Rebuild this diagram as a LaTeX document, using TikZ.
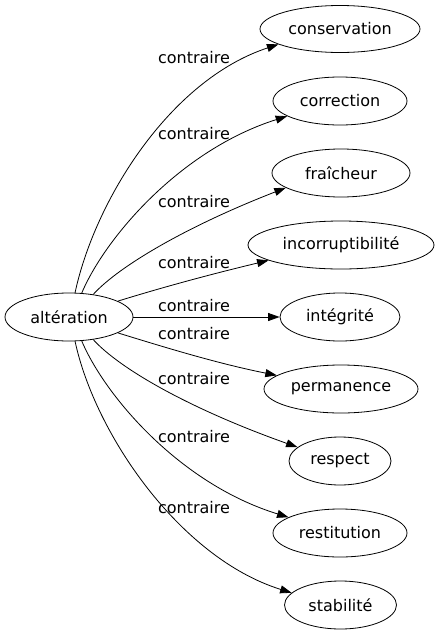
\documentclass[tikz,border=0pt]{standalone}
\usepackage{fontspec}
\setmainfont{DejaVu Sans}
\usetikzlibrary{shapes.geometric,arrows.meta}
\begin{document}
\begin{tikzpicture}[x=1pt,y=-1pt,
  ell/.style={ellipse,draw,line width=0.8pt,inner sep=0pt,minimum height=48pt,font=\fontsize{16}{19}\selectfont},
  lab/.style={font=\fontsize{16}{19}\selectfont,inner sep=0pt},
  edge/.style={line width=0.8pt,-{Triangle[length=11.5pt,width=8pt]}}]
\useasboundingbox (0,0) rectangle (439,635);
\node[ell,minimum width=128pt] (alt) at (69,317) {altération};
\node[ell,minimum width=160pt,minimum height=47pt] (cons) at (340,29) {conservation};
\node[ell,minimum width=134pt] (corr) at (340,101) {correction};
\node[ell,minimum width=138pt] (frai) at (341,173) {fraîcheur};
\node[ell,minimum width=186pt] (inco) at (341,245) {incorruptibilité};
\node[ell,minimum width=120pt] (inte) at (340,317) {intégrité};
\node[ell,minimum width=154pt] (perm) at (341,389) {permanence};
\node[ell,minimum width=102pt] (resp) at (340,461) {respect};
\node[ell,minimum width=134pt] (rest) at (340,533) {restitution};
\node[ell,minimum width=112pt] (stab) at (340.5,605) {stabilité};
\node[lab] (l1) at (194,58) {contraire};
\node[lab] (l2) at (194,134) {contraire};
\node[lab] (l3) at (194,202) {contraire};
\node[lab] (l4) at (194,263) {contraire};
\node[lab] (l5) at (194,306) {contraire};
\node[lab] (l6) at (194,334) {contraire};
\node[lab] (l7) at (194,379) {contraire};
\node[lab] (l8) at (194,437) {contraire};
\node[lab] (l9) at (194,508) {contraire};
\draw[edge] (alt.76) .. controls (95,200) and (170,80) .. (cons.194.7);
\draw[edge] (alt.62) .. controls (105,238) and (180,150) .. (corr.196.8);
\draw[edge] (alt.43) .. controls (120,265) and (190,225) .. (frai.195.5);
\draw[edge] (alt.18) .. controls (170,285) and (220,272) .. (inco.192.7);
\draw[edge] (alt.0) -- (inte.180);
\draw[edge] (alt.-18) .. controls (170,349) and (220,364) .. (perm.168.5);
\draw[edge] (alt.-43) .. controls (120,369) and (190,409) .. (resp.162.7);
\draw[edge] (alt.-62) .. controls (105,396) and (180,484) .. (rest.163.2);
\draw[edge] (alt.-76) .. controls (95,434) and (180,558) .. (stab.166.6);
\end{tikzpicture}
\end{document}
